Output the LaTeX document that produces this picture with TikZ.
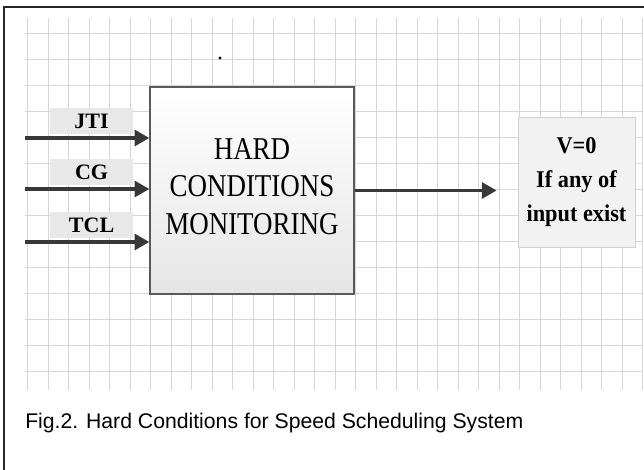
\documentclass[tikz,border=0pt]{standalone}
\usepackage{fontspec}
\setmainfont{Liberation Serif}
\newfontfamily\boxfont[FakeStretch=0.85]{Liberation Serif}
\newfontfamily\outfont[FakeStretch=0.93]{Liberation Serif}
\newfontfamily\capfont{Liberation Sans}
\usepackage{tikz}
\usetikzlibrary{arrows.meta,positioning}
\tikzstyle{gridline} = [black!16, line width=0.6pt]
\tikzstyle{block} = [draw=black!65, line width=1.1pt, top color=white, bottom color=black!10, minimum width=153pt, minimum height=155pt, align=center, font=\boxfont\fontsize{23.8}{28}\selectfont]
\tikzstyle{tag} = [fill=black!9, minimum width=62pt, minimum height=19pt, inner sep=0pt, font=\bfseries\fontsize{16.5}{18}\selectfont]
\tikzstyle{outbox} = [draw=black!18, fill=black!5, minimum width=88pt, minimum height=97.5pt, align=center, font=\outfont\bfseries\fontsize{18}{25.5}\selectfont]
\tikzstyle{flow} = [->, draw=black!78, line width=2.3pt]

\begin{document}
\begin{tikzpicture}[x=0.75pt, y=-0.75pt, >={Triangle[length=11pt,width=12pt]}]
\useasboundingbox (0,0) rectangle (644,470);

% frame and grid paper
\draw[black!85, line width=1.5pt] (4,470) -- (4,7) -- (644,7);
\foreach \gx in {27.5,48,...,643}
  \draw[gridline] (\gx,18) -- (\gx,390);
\foreach \gy in {33,59,...,372}
  \draw[gridline] (25,\gy) -- (643,\gy);
\fill (220,58) circle (1.2pt);

\node[block, text depth=6pt] (monitor) at (252,190.5) {HARD\\CONDITIONS\\MONITORING};
\node[outbox] (verdict) at (576.5,182) {V=0\\If any of\\input exist};

% inputs
\coordinate (jtiin) at (25,138);
\coordinate (cgin) at (25,189);
\coordinate (tclin) at (25,242);
\node[tag, above right=3pt and 18.75pt of jtiin] (jti) {JTI};
\node[tag, above right=3pt and 18.75pt of cgin] (cg) {CG};
\node[tag, above right=3pt and 18.75pt of tclin] (tcl) {TCL};

\draw[flow] (jtiin) -- (jtiin -| monitor.west);
\draw[flow] (cgin) -- (cgin -| monitor.west);
\draw[flow] (tclin) -- (tclin -| monitor.west);
\draw[flow, shorten >=15.75pt] (monitor.east) -- (verdict.west |- monitor.east);

\node[anchor=base west, inner sep=0pt, font=\capfont\fontsize{15.9}{19}\selectfont] (caption) at (25,429) {Fig.2. Hard Conditions for Speed Scheduling System};
\end{tikzpicture}
\end{document}
